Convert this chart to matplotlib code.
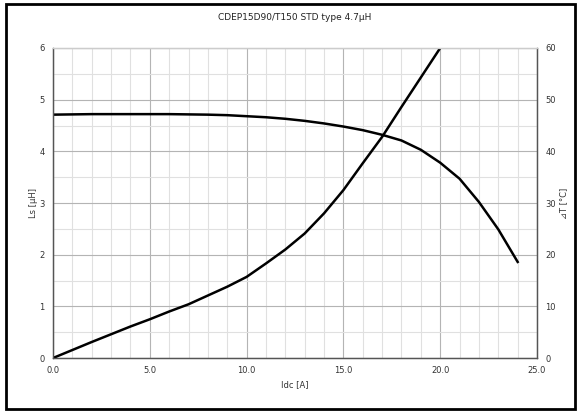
import matplotlib.pyplot as plt
import numpy as np
from matplotlib.patches import Rectangle

# Werte
idc_ls = [0, 1, 2, 3, 4, 5, 6, 7, 8, 9, 10, 11, 12, 13, 14, 15, 16, 17, 18, 19, 20, 21, 22, 23, 24]
ls = [4.71, 4.715, 4.72, 4.72, 4.72, 4.72, 4.72, 4.715, 4.71, 4.70, 4.68, 4.66, 4.63, 4.59, 4.54,
      4.48, 4.41, 4.32, 4.21, 4.03, 3.78, 3.47, 3.02, 2.49, 1.86]

idc_t = [0, 1, 2, 3, 4, 5, 6, 7, 8, 9, 10, 11, 12, 13, 14, 15, 16, 17, 18, 19, 20]
dt = [0, 1.55, 3.1, 4.6, 6.1, 7.5, 9.0, 10.4, 12.1, 13.8, 15.7, 18.3, 21.0, 24.1, 28.0,
      32.5, 37.7, 42.8, 48.6, 54.3, 60]

title = 'CDEP15D90/T150 STD type 4.7\u03bcH'

plt.rcParams['font.family'] = ['DejaVu Sans']
fig = plt.figure(figsize=(5.81, 4.12), dpi=100)
ax = fig.add_axes([0.0912, 0.131, 0.8331, 0.7525])
ax2 = ax.twinx()

ax.plot(idc_ls, ls, color='black', lw=1.8, solid_joinstyle='round')
ax2.plot(idc_t, dt, color='black', lw=1.8, solid_joinstyle='round')

ax.set_xlim(0, 25)
ax.set_ylim(0, 6)
ax2.set_ylim(0, 60)
ax.set_xticks(np.arange(0, 26, 5))
ax.set_xticklabels(['%.1f' % v for v in np.arange(0, 26, 5)])
ax.set_xticks(np.arange(0, 26, 1), minor=True)
ax.set_yticks(range(0, 7))
ax.set_yticks(np.arange(0, 6.1, 0.5), minor=True)
ax2.set_yticks(range(0, 61, 10))

ax.grid(which='major', color='#b4b4b4', lw=0.8)
ax.grid(which='minor', color='#e0e0e0', lw=0.8)
ax.set_axisbelow(True)

for a in (ax, ax2):
    a.tick_params(which='both', length=0, labelsize=6, colors='#333333', pad=6)
    for s in a.spines.values():
        s.set_color('#555555')
        s.set_linewidth(0.9)
    a.spines['top'].set_color('#cccccc')

ax.set_xlabel('Idc [A]', fontsize=6, color='#333333')
ax.xaxis.set_label_coords(0.5, -0.072)
ax.set_ylabel('Ls [\u03bcH]', fontsize=6, color='#333333')
ax.yaxis.set_label_coords(-0.03, 0.5)
ax2.set_ylabel('\u22bfT [\u00b0C]', fontsize=6, color='#333333')
ax2.yaxis.set_label_coords(1.045, 0.5)
ax.set_title(title, fontsize=6.5, color='#222222', y=1.09, pad=0)

fig.patches.append(Rectangle((0.011, 0.008), 0.978, 0.982, transform=fig.transFigure,
                             fill=False, edgecolor='black', lw=2))

fig.savefig('out.png', dpi=100)
